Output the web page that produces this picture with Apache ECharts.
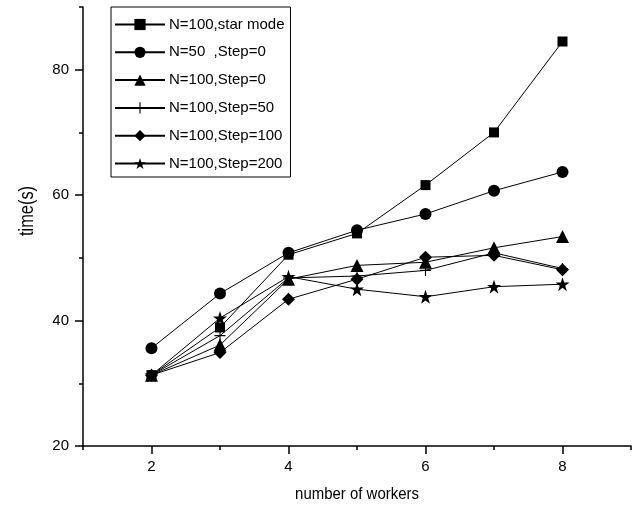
<!DOCTYPE html>
<html>
<head>
<meta charset="utf-8">
<script src="https://cdn.jsdelivr.net/npm/echarts@6/dist/echarts.min.js"></script>
<style>html,body{margin:0;padding:0;background:#fff}#c{width:643px;height:511px}</style>
</head>
<body>
<div id="c"></div>
<script>
var workers = [2, 3, 4, 5, 6, 7, 8];
var seriesNames = ['N=100,star mode', 'N=50  ,Step=0', 'N=100,Step=0', 'N=100,Step=50', 'N=100,Step=100', 'N=100,Step=200'];
var starMode = [31.3, 38.9, 50.5, 53.9, 61.6, 70.0, 84.5];
var n50Step0 = [35.6, 44.3, 50.8, 54.4, 57.0, 60.7, 63.7];
var n100Step0 = [31.3, 36.1, 46.6, 48.8, 49.3, 51.6, 53.4];
var n100Step50 = [31.3, 37.6, 46.8, 47.1, 48.0, 50.8, 48.3];
var n100Step100 = [31.3, 34.9, 43.4, 46.6, 50.1, 50.4, 48.1];
var n100Step200 = [31.3, 40.4, 47.0, 45.0, 43.8, 45.4, 45.8];
var xMajorTicks = [2, 4, 6, 8];
var xMinorTicks = [1, 3, 5, 7, 9];
var yMajorTicks = [20, 40, 60, 80];
var yMinorTicks = [30, 50, 70, 90];
var xTitle = 'number of workers';
var yTitle = 'time(s)';

var STAR = 'path://M50,0 L61.8,35.3 L99,35.3 L69,57.1 L80.4,92.7 L50,70.6 L19.6,92.7 L31,57.1 L1,35.3 L38.2,35.3 Z';
var PLUS = 'path://M45,0 L55,0 L55,45 L100,45 L100,55 L55,55 L55,100 L45,100 L45,55 L0,55 L0,45 L45,45 Z';
var symbols = ['rect', 'circle', 'triangle', PLUS, 'diamond', STAR];
var sizes = [10, 12, 13, 11, 13, 14];
var values = [starMode, n50Step0, n100Step0, n100Step50, n100Step100, n100Step200];

var FONT = 'Liberation Sans, Arial, sans-serif';
var chart = echarts.init(document.getElementById('c'), null, {renderer: 'canvas'});

function pairs(v) { return workers.map(function (w, i) { return [w, v[i]]; }); }

var series = values.map(function (v, i) {
  return {
    name: seriesNames[i],
    type: 'line',
    data: pairs(v),
    symbol: symbols[i],
    symbolSize: sizes[i],
    showAllSymbol: true,
    lineStyle: {color: '#000', width: 1},
    itemStyle: {color: '#000', borderWidth: 0},
    emphasis: {disabled: true},
    animation: false,
    z: 3
  };
});

var axisLine = {show: true, lineStyle: {color: '#000', width: 1.5}};
var option = {
  animation: false,
  backgroundColor: '#fff',
  grid: {left: 83, right: 12, top: 7, bottom: 65, containLabel: false},
  legend: {
    orient: 'vertical',
    left: 111,
    top: 7,
    data: seriesNames,
    itemWidth: 50,
    itemHeight: 14,
    itemGap: 12.8,
    padding: [10, 6, 6, 3],
    borderColor: '#000',
    borderWidth: 1,
    backgroundColor: '#fff',
    textStyle: {fontFamily: FONT, fontSize: 15, color: '#000', padding: [0, 0, 0, -1]},
    selectedMode: false
  },
  graphic: [{
    type: 'text', x: 357, y: 494, scaleX: 0.88,
    style: {text: xTitle, fontSize: 17, fontFamily: FONT, fill: '#000', align: 'center', verticalAlign: 'middle'},
    silent: true
  }, {
    type: 'text', x: 27, y: 211, rotation: Math.PI / 2, scaleX: 0.82,
    style: {text: yTitle, fontSize: 20, fontFamily: FONT, fill: '#000', align: 'center', verticalAlign: 'middle'},
    silent: true
  }],
  xAxis: [{
    type: 'value', min: 1, max: 9,
    axisLine: axisLine,
    axisTick: {show: true, length: 8, inside: false, customValues: xMajorTicks, lineStyle: {color: '#000', width: 1.5}},
    axisLabel: {customValues: xMajorTicks, fontFamily: FONT, fontSize: 15, color: '#000', margin: 13},
    splitLine: {show: false}
  }, {
    type: 'value', min: 1, max: 9, position: 'bottom',
    axisLine: {show: false},
    axisTick: {show: true, length: 4, customValues: xMinorTicks, lineStyle: {color: '#000', width: 1.5}},
    axisLabel: {show: false},
    splitLine: {show: false}
  }],
  yAxis: [{
    type: 'value', min: 20, max: 90,
    axisLine: axisLine,
    axisTick: {show: true, length: 8, customValues: yMajorTicks, lineStyle: {color: '#000', width: 1.5}},
    axisLabel: {customValues: yMajorTicks, fontFamily: FONT, fontSize: 15, color: '#000', margin: 14},
    splitLine: {show: false}
  }, {
    type: 'value', min: 20, max: 90, position: 'left',
    axisLine: {show: false},
    axisTick: {show: true, length: 4, customValues: yMinorTicks, lineStyle: {color: '#000', width: 1.5}},
    axisLabel: {show: false},
    splitLine: {show: false}
  }],
  series: series
};
chart.setOption(option);
</script>
</body>
</html>
